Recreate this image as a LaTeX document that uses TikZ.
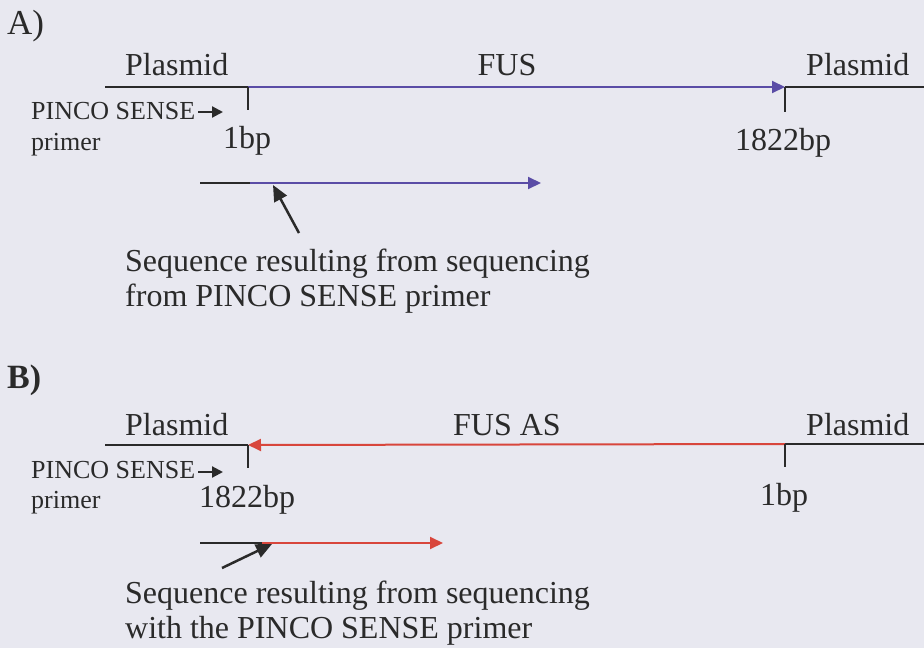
\documentclass[tikz,border=0pt]{standalone}
\usepackage{fontspec}
\setmainfont{Liberation Serif}
\usetikzlibrary{arrows.meta}
\definecolor{bg}{HTML}{E8E8F0}
\definecolor{ink}{HTML}{2A2A2A}
\definecolor{fusblue}{HTML}{5A4CA6}
\definecolor{fusred}{HTML}{D8463C}
\tikzset{
  big/.style={anchor=base west,inner sep=0pt,text=ink,font=\fontsize{32}{36}\selectfont},
  bigc/.style={anchor=base,inner sep=0pt,text=ink,font=\fontsize{32}{36}\selectfont},
  small/.style={anchor=base west,inner sep=0pt,text=ink,font=\fontsize{26}{30}\selectfont},
  plas/.style={draw=ink,line width=2pt},
  tickl/.style={draw=ink,line width=1.8pt},
  blueseq/.style={draw=fusblue,line width=2pt,-{Triangle[length=13pt,width=12pt]}},
  redseq/.style={draw=fusred,line width=2pt,-{Triangle[length=13pt,width=12pt]}},
  primarr/.style={draw=ink,line width=2.2pt,-{Triangle[length=11pt,width=11pt]}},
  pointer/.style={draw=ink,line width=2.5pt,-{Triangle[length=16pt,width=14pt]}}
}
\begin{document}
\begin{tikzpicture}[x=1pt,y=-1pt]
\fill[bg] (0,0) rectangle (924,648);
\useasboundingbox (0,0) rectangle (924,648);

% ---------- A ----------
\node[big,font=\fontsize{35}{40}\selectfont] (la) at (7,34) {A)};
\node[big] (pa1) at (125,75) {Plasmid};
\node[bigc] (fus) at (507,75) {FUS};
\node[big] (pa2) at (806,75) {Plasmid};
\coordinate (a0) at (105,87);
\coordinate (a1) at (248,87);
\coordinate (a2) at (785,87);
\coordinate (a3) at (924,87);
\draw[plas] (a0) -- (a1);
\draw[plas] (a2) -- (a3);
\draw[blueseq] (a1) -- (a2);
\coordinate (ta1) at (248,110);
\coordinate (ta2) at (785,112);
\draw[tickl] (a1) -- (ta1);
\draw[tickl] (a2) -- (ta2);
\node[small] (psa) at (31,119) {PINCO SENSE};
\coordinate (psa0) at (198,112);
\coordinate (psa1) at (223,112);
\draw[primarr] (psa0) -- (psa1);
\node[small] (pra) at (31,150) {primer};
\node[big] (bpa1) at (223,148) {1bp};
\node[big] (bpa2) at (735,150) {1822bp};
\coordinate (sa0) at (200,183);
\coordinate (sa1) at (250,183);
\coordinate (sa2) at (541,183);
\draw[plas] (sa0) -- (sa1);
\draw[blueseq] (sa1) -- (sa2);
\coordinate (pta0) at (299,233);
\coordinate (pta1) at (273,185);
\draw[pointer] (pta0) -- (pta1);
\node[big] (txa1) at (125,271) {Sequence resulting from sequencing};
\node[big] (txa2) at (125,306) {from PINCO SENSE primer};

% ---------- B ----------
\node[big,font=\fontsize{34}{40}\selectfont\bfseries] (lb) at (7,388) {B)};
\node[big] (pb1) at (125,435) {Plasmid};
\node[bigc] (fusas) at (507,435) {FUS AS};
\node[big] (pb2) at (806,435) {Plasmid};
\coordinate (b0) at (105,445);
\coordinate (b1) at (248,445);
\coordinate (b2) at (785,444);
\coordinate (b3) at (924,444);
\draw[plas] (b0) -- (b1);
\draw[plas] (b2) -- (b3);
\draw[redseq] (b2) -- (b1);
\coordinate (tb1) at (248,468);
\coordinate (tb2) at (785,467);
\draw[tickl] (b1) -- (tb1);
\draw[tickl] (b2) -- (tb2);
\node[small] (psb) at (31,478) {PINCO SENSE};
\coordinate (psb0) at (198,472);
\coordinate (psb1) at (223,472);
\draw[primarr] (psb0) -- (psb1);
\node[small] (prb) at (31,508) {primer};
\node[big] (bpb1) at (199,507) {1822bp};
\node[big] (bpb2) at (760,505) {1bp};
\coordinate (sb0) at (200,543);
\coordinate (sb1) at (262,543);
\coordinate (sb2) at (443,543);
\draw[plas] (sb0) -- (sb1);
\draw[redseq] (sb1) -- (sb2);
\coordinate (ptb0) at (222,568);
\coordinate (ptb1) at (272,544);
\draw[pointer] (ptb0) -- (ptb1);
\node[big] (txb1) at (125,603) {Sequence resulting from sequencing};
\node[big] (txb2) at (125,638) {with the PINCO SENSE primer};
\end{tikzpicture}
\end{document}
